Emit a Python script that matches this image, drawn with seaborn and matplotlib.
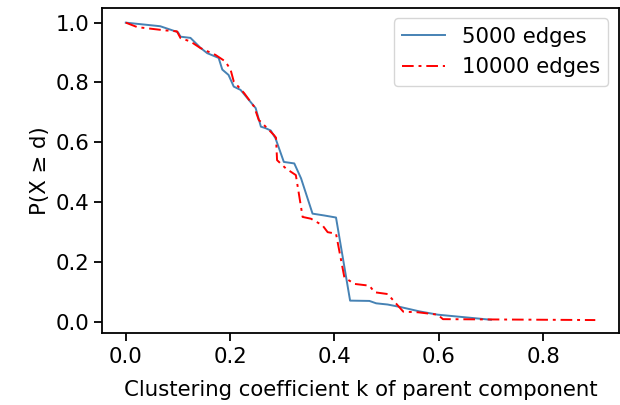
import matplotlib
matplotlib.use("Agg")
import matplotlib.pyplot as plt
import seaborn as sns
import pandas as pd

# 5000 edges
x_5000 = [0.0, 0.066, 0.100, 0.105, 0.124, 0.143, 0.156, 0.178, 0.185, 0.197,
          0.207, 0.220, 0.249, 0.259, 0.268, 0.278, 0.287, 0.303, 0.323, 0.336,
          0.358, 0.380, 0.403, 0.430, 0.467, 0.480, 0.502, 0.528, 0.563, 0.598,
          0.700]
y_5000 = [1.0, 0.988, 0.968, 0.953, 0.949, 0.916, 0.898, 0.882, 0.843, 0.825,
          0.786, 0.775, 0.714, 0.652, 0.647, 0.639, 0.613, 0.534, 0.529, 0.479,
          0.361, 0.355, 0.348, 0.070, 0.069, 0.061, 0.057, 0.048, 0.034, 0.023,
          0.006]

# 10000 edges
x_10000 = [0.0, 0.022, 0.076, 0.098, 0.105, 0.124, 0.143, 0.172, 0.191, 0.201,
           0.207, 0.227, 0.246, 0.255, 0.259, 0.284, 0.288, 0.290, 0.307, 0.326,
           0.339, 0.355, 0.377, 0.387, 0.403, 0.419, 0.438, 0.467, 0.477, 0.502,
           0.532, 0.560, 0.598, 0.608, 0.900]
y_10000 = [1.0, 0.985, 0.974, 0.971, 0.948, 0.937, 0.915, 0.892, 0.870, 0.842,
           0.803, 0.764, 0.719, 0.674, 0.668, 0.624, 0.615, 0.540, 0.512, 0.490,
           0.350, 0.344, 0.322, 0.299, 0.294, 0.148, 0.126, 0.120, 0.098, 0.092,
           0.033, 0.031, 0.023, 0.008, 0.005]

labels = ["5000 edges", "10000 edges"]

df = pd.concat([
    pd.DataFrame({"k": x_5000, "p": y_5000, "series": labels[0]}),
    pd.DataFrame({"k": x_10000, "p": y_10000, "series": labels[1]}),
], ignore_index=True)

plt.rcParams.update({
    "font.family": ["DejaVu Sans"],
    "font.size": 15.3,
    "axes.linewidth": 1.3,
    "xtick.major.size": 5.5,
    "ytick.major.size": 5.5,
    "xtick.major.width": 1.3,
    "ytick.major.width": 1.3,
    "xtick.major.pad": 5,
})

fig = plt.figure(figsize=(6.2, 4.05), dpi=100)
ax = fig.add_axes([0.165, 0.178, 0.833, 0.803])

sns.lineplot(data=df, x="k", y="p", hue="series", style="series",
             palette={labels[0]: "steelblue", labels[1]: "red"},
             dashes={labels[0]: "", labels[1]: (6, 2.5, 1.5, 2.5)},
             estimator=None, sort=False, linewidth=1.4, ax=ax)

ax.set_xlim(-0.045, 0.945)
ax.set_ylim(-0.038, 1.05)
ax.set_xticks([0.0, 0.2, 0.4, 0.6, 0.8])
ax.set_yticks([0.0, 0.2, 0.4, 0.6, 0.8, 1.0])
ax.set_xlabel("Clustering coefficient k of parent component", labelpad=9)
ax.set_ylabel("P(X \u2265 d)")
ax.legend(title=None, loc="upper right", handlelength=2.0)

fig.savefig("out.png", dpi=100)
